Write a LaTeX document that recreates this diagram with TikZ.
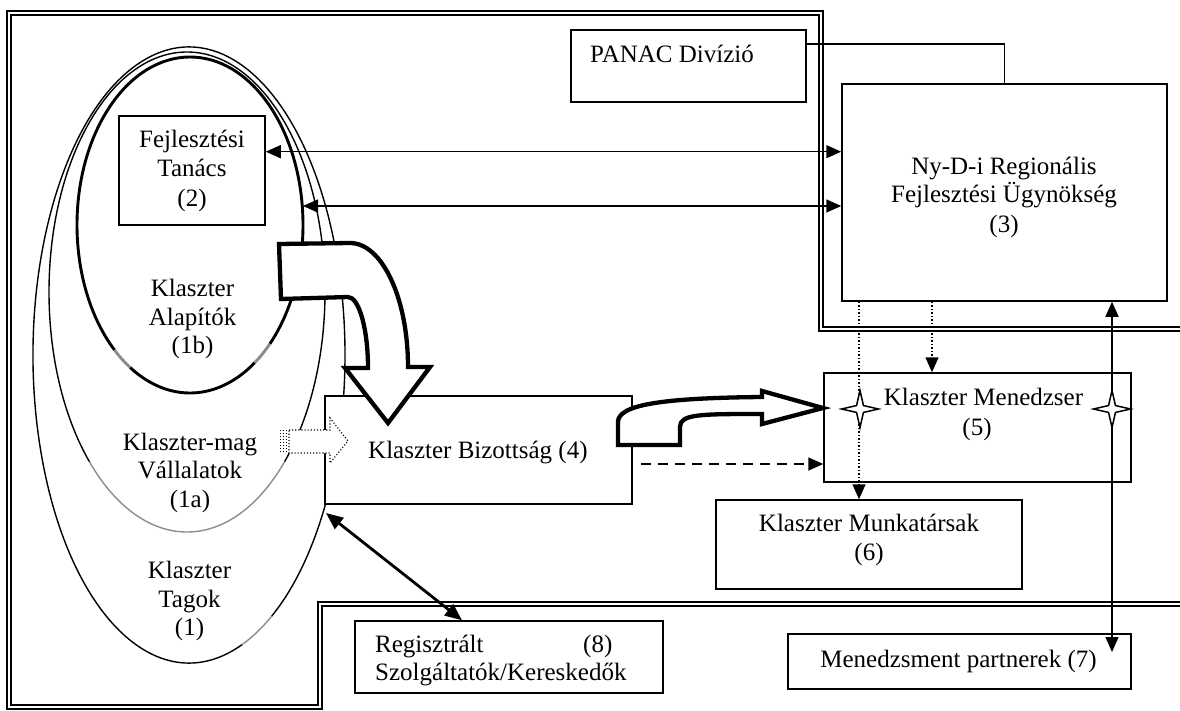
\documentclass[tikz,border=0pt]{standalone}
\usepackage{fontspec}
\setmainfont{Liberation Serif}
\usetikzlibrary{arrows.meta,shapes.geometric,calc}
\begin{document}
\begin{tikzpicture}[x=1pt,y=-1pt,
  box/.style={draw,fill=white,line width=1.5pt,inner sep=0pt},
  txt/.style={inner sep=0pt,anchor=base,font=\fontsize{25}{29}\selectfont},
  txtl/.style={txt,anchor=base west},
  frame/.style={draw,line width=1.4pt,double=white,double distance=2.7pt,line join=miter},
  thinell/.style={line width=1.4pt},
  thickell/.style={line width=2.9pt},
  grayell/.style={draw=black!45},
  blockarrow/.style={draw,fill=white,line width=4.3pt,line join=miter},
  conn/.style={line width=1.5pt},
  >={Triangle[length=15pt,width=13pt]},
  starnode/.style={star,star points=4,star point ratio=3.8,minimum size=37pt,inner sep=0pt,draw,fill=white,line width=1.5pt}
]
\useasboundingbox (0,0) rectangle (1180,711);

% frame
\draw[frame] (1195,329) -- (821,329) -- (821,13) -- (9,13) -- (9,707) -- (320,707) -- (320,604) -- (1195,604);

% ellipse 1 (Klaszter Tagok)
\draw[thinell] (189,355) ++(70:156 and 308) arc[start angle=70,end angle=418,x radius=156,y radius=308];
\draw[thinell,grayell] (189,355) ++(58:156 and 308) arc[start angle=58,end angle=70,x radius=156,y radius=308];
% ellipse 1a (Klaszter-mag)
\draw[thinell] (187,292) ++(135:138 and 240) arc[start angle=135,end angle=405,x radius=138,y radius=240];
\draw[thinell,grayell] (187,292) ++(45:138 and 240) arc[start angle=45,end angle=135,x radius=138,y radius=240];
% ellipse 1b (Alapitok)
\draw[thickell] (190,225) ++(55:113 and 168) arc[start angle=55,end angle=122,x radius=113,y radius=168];
\draw[thickell,grayell] (190,225) ++(122:113 and 168) arc[start angle=122,end angle=132,x radius=113,y radius=168];
\draw[thickell] (190,225) ++(132:113 and 168) arc[start angle=132,end angle=405,x radius=113,y radius=168];
\draw[thickell,grayell] (190,225) ++(45:113 and 168) arc[start angle=45,end angle=55,x radius=113,y radius=168];

% boxes
\node[box,minimum width=146pt,minimum height=109pt] (fej) at (192,170.5) {};
\node[box,minimum width=307pt,minimum height=108pt] (biz) at (478.5,450) {};
\node[box,minimum width=235pt,minimum height=72pt] (panac) at (688.5,66) {};
\node[box,minimum width=325pt,minimum height=217pt] (nyd) at (1004.5,192.5) {};
\node[box,minimum width=307pt,minimum height=109pt] (men) at (977.5,427.5) {};
\node[box,minimum width=306pt,minimum height=89pt] (mun) at (869,544.5) {};
\node[box,minimum width=343pt,minimum height=55pt] (part) at (959.5,661.5) {};
\node[box,minimum width=308pt,minimum height=72pt] (reg) at (509,657) {};

% block arrow 1 (curved down into Bizottsag)
\draw[blockarrow] (279,244) -- (350,243) .. controls (382,243) and (408,298) .. (408,367)
  -- (430,367) -- (388,423) -- (345,368) -- (368,368)
  .. controls (368,329) and (359,297) .. (348,297) -- (281,299) -- cycle;

% striped dotted arrow
\draw[dotted,line width=1.1pt,fill=white] (289,430) -- (330,430) -- (330,418) -- (348,441) -- (330,463) -- (330,453) -- (289,453) -- cycle;
\foreach \xx in {280,283,286} \draw[dotted,line width=1pt] (\xx,430) -- (\xx,453);

% connectors
\coordinate (ya) at (0,151.7);
\coordinate (eb) at (303,206);
\coordinate (yp) at (0,44);
\coordinate (xd1) at (859,0);
\coordinate (xd2) at (932,0);
\coordinate (pend) at (1112,652);
\coordinate (dstart) at (641,464);
\coordinate (e1p) at (326,513);
\coordinate (rx) at (462,0);

\draw[conn,<->] (fej.east |- ya) -- (nyd.west |- ya);
\draw[conn,<->] (eb) -- (nyd.west |- eb);
\draw[conn] (panac.east |- yp) -| (nyd.north);
\draw[conn,dotted,->] (nyd.south -| xd1) -- (mun.north -| xd1);
\draw[conn,dotted,->] (nyd.south -| xd2) -- (men.north -| xd2);
\draw[conn,<->] (pend) -- (nyd.south -| pend);
\draw[line width=1.6pt,dash pattern=on 10pt off 7pt,->] (dstart) -- (men.west |- dstart);
\draw[line width=2.8pt,{Triangle[length=17pt,width=14pt]}-{Triangle[length=17pt,width=14pt]}] (e1p) -- (reg.north -| rx);

% block arrow 2 (Bizottsag -> Menedzser)
\draw[blockarrow] (618,445) -- (618,422) .. controls (618,405) and (660,398) .. (762,397)
  -- (762,391) -- (823,408) -- (762,424) -- (762,414)
  .. controls (700,414) and (680,414) .. (680,427) -- (680,445) -- cycle;

% stars
\node[starnode] (s1) at (860,409) {};
\node[starnode] (s2) at (1112,409) {};

% texts
\node[txt] (t2a) at (192,148) {Fejlesztési};
\node[txt] (t2b) at (192,177) {Tanács};
\node[txt] (t2c) at (192,207) {(2)};

\node[txt] (t1ba) at (192.5,297) {Klaszter};
\node[txt] (t1bb) at (192.5,325) {Alapítók};
\node[txt] (t1bc) at (192.5,353) {(1b)};

\node[txt] (t1aa) at (190,450) {Klaszter-mag};
\node[txt] (t1ab) at (190,478) {Vállalatok};
\node[txt] (t1ac) at (190,507) {(1a)};

\node[txt] (t1a) at (189.5,578) {Klaszter};
\node[txt] (t1b) at (189.5,607) {Tagok};
\node[txt] (t1c) at (189.5,635) {(1)};

\node[txtl] (tp) at (590,63) {PANAC Divízió};

\node[txt] (t3a) at (1004,175) {Ny-D-i Regionális};
\node[txt] (t3b) at (1004,203) {Fejlesztési Ügynökség};
\node[txt] (t3c) at (1004,233) {(3)};

\node[txtl] (t4) at (368,458) {Klaszter Bizottság (4)};

\node[txt] (t5a) at (983.5,405) {Klaszter Menedzser};
\node[txt] (t5b) at (977,435) {(5)};

\node[txt] (t6a) at (869,531) {Klaszter Munkatársak};
\node[txt] (t6b) at (869,560) {(6)};

\node[txt] (t7) at (958.5,667) {Menedzsment partnerek (7)};

\node[txtl] (t8a) at (375,652) {Regisztrált};
\node[txtl] (t8b) at (583,652) {(8)};
\node[txtl] (t8c) at (375,680) {Szolgáltatók/Kereskedők};
\end{tikzpicture}
\end{document}
